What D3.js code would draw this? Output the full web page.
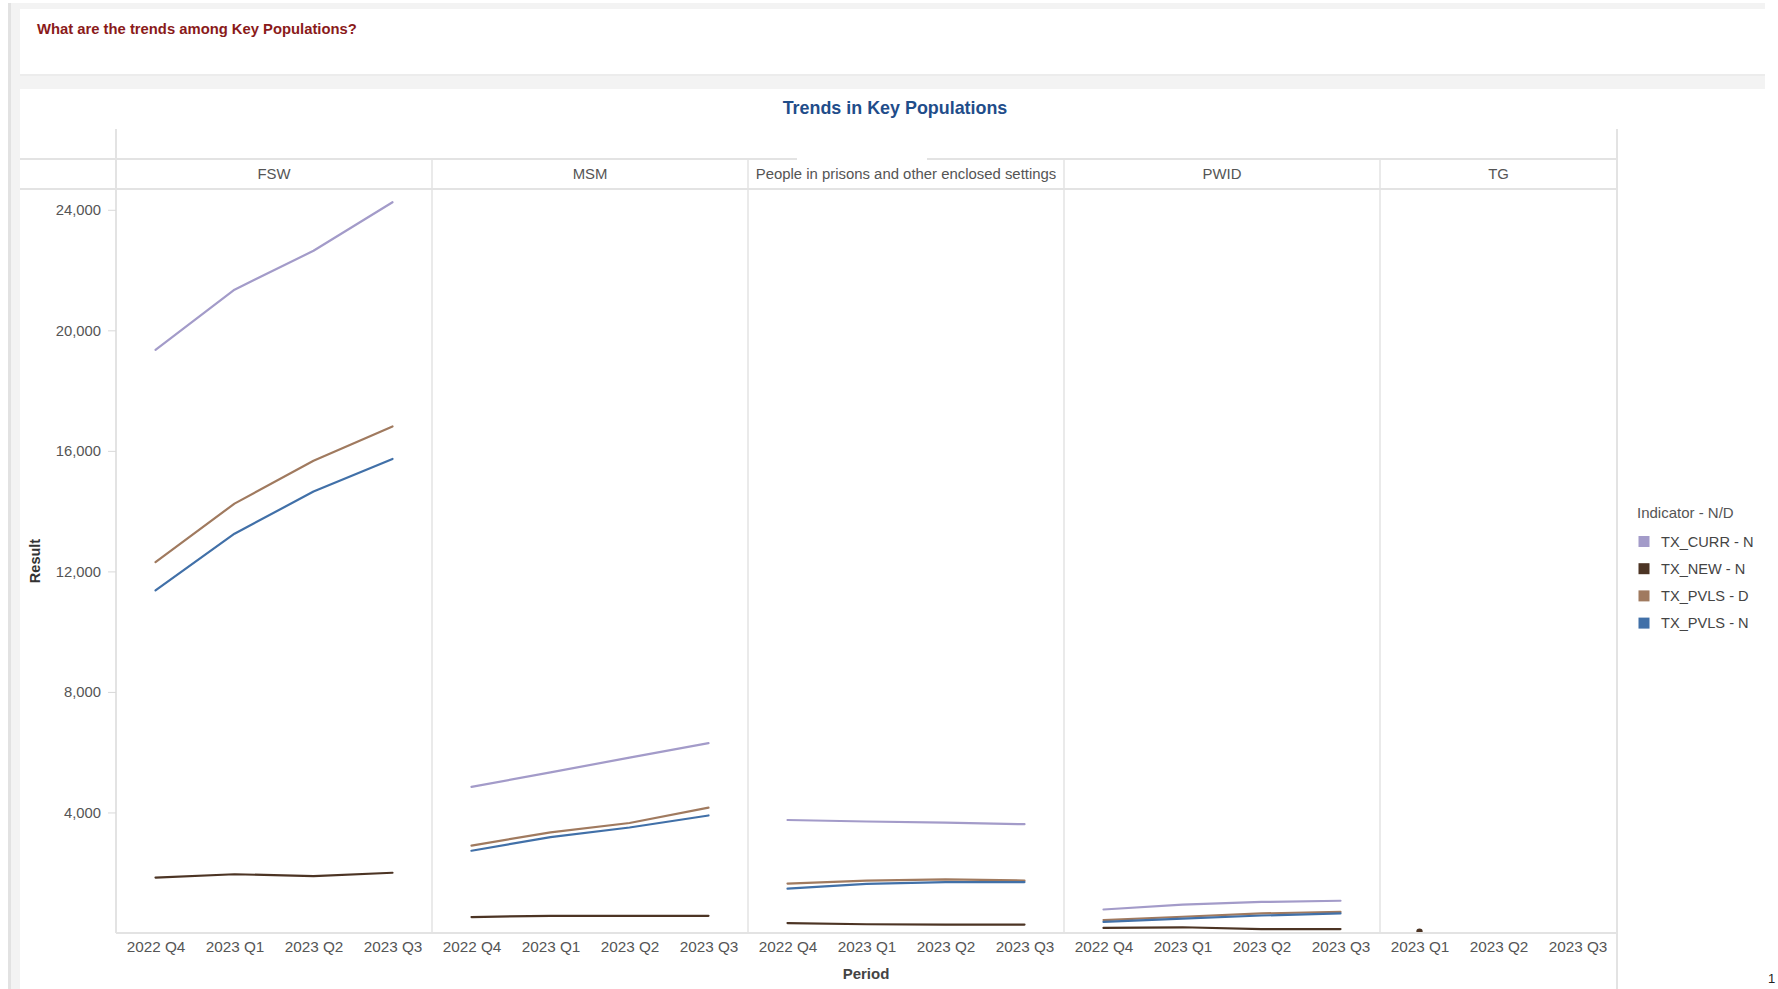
<!DOCTYPE html>
<html>
<head>
<meta charset="utf-8">
<script src="https://cdn.jsdelivr.net/npm/d3@7"></script>
<style>
  html, body { margin: 0; padding: 0; background: #ffffff; }
  svg { display: block; font-family: "Liberation Sans", Arial, sans-serif; }
</style>
</head>
<body>
<svg id="chart" width="1778" height="989"></svg>
<script>
// Key population panels and the reporting periods shown in each
const populations = ["FSW", "MSM", "People in prisons and other enclosed settings", "PWID", "TG"];
const periodsAll = ["2022 Q4", "2023 Q1", "2023 Q2", "2023 Q3"];
const periodsTG = ["2023 Q1", "2023 Q2", "2023 Q3"];

// Indicators (legend order) and their colours
const indicators = ["TX_CURR - N", "TX_NEW - N", "TX_PVLS - D", "TX_PVLS - N"];
const indicatorColors = ["#a39bc9", "#4c3424", "#a07a5f", "#4170a8"];

// Results per population, one row per panel, one value per period of that panel
const txCurr = [
  [19350, 21350, 22640, 24250],
  [4850, 5330, 5820, 6300],
  [3750, 3700, 3660, 3610],
  [780, 940, 1030, 1070],
  [null, null, null]
];
const txNew = [
  [1840, 1950, 1890, 2000],
  [530, 570, 570, 570],
  [330, 290, 280, 280],
  [170, 190, 130, 130],
  [40, null, null]
];
const txPvlsD = [
  [12310, 14250, 15670, 16810],
  [2900, 3340, 3650, 4160],
  [1640, 1740, 1780, 1740],
  [430, 540, 650, 700],
  [null, null, null]
];
const txPvlsN = [
  [11370, 13250, 14650, 15730],
  [2730, 3180, 3500, 3900],
  [1470, 1630, 1690, 1690],
  [370, 480, 580, 650],
  [null, null, null]
];
const seriesByIndicator = [txCurr, txNew, txPvlsD, txPvlsN];

const yTicks = [4000, 8000, 12000, 16000, 20000, 24000];

const svg = d3.select("#chart");
const FONT = "'Liberation Sans', Arial, sans-serif";

// ---- dashboard background and cards ----
svg.append("rect").attr("x", 10).attr("y", 3).attr("width", 1755).attr("height", 986).attr("fill", "#f3f3f3");
svg.append("rect").attr("x", 8).attr("y", 3).attr("width", 3).attr("height", 986).attr("fill", "#e2e2e2");
svg.append("rect").attr("x", 20).attr("y", 9).attr("width", 1745).attr("height", 65).attr("fill", "#ffffff");
svg.append("rect").attr("x", 20).attr("y", 74).attr("width", 1745).attr("height", 2).attr("fill", "#ececec");
svg.append("rect").attr("x", 20).attr("y", 89).attr("width", 1745).attr("height", 900).attr("fill", "#ffffff");

svg.append("text")
  .attr("x", 37).attr("y", 34)
  .attr("font-size", 14.8).attr("font-weight", "bold").attr("fill", "#8a1a1a")
  .text("What are the trends among Key Populations?");

svg.append("text")
  .attr("x", 895).attr("y", 114)
  .attr("text-anchor", "middle")
  .attr("font-size", 17.9).attr("font-weight", "bold").attr("fill", "#1f4d8a")
  .text("Trends in Key Populations");

// ---- geometry ----
const plotLeft = 116, plotRight = 1617;
const headerTop = 159, headerBottom = 189, plotBottom = 933;
const panelPeriods = populations.map((p, i) => i === 4 ? periodsTG : periodsAll);
const totalSlots = d3.sum(panelPeriods, d => d.length);
const slotX = d3.scaleLinear().domain([0, totalSlots]).range([plotLeft, plotRight]);

let cum = 0;
const panels = populations.map((name, i) => {
  const n = panelPeriods[i].length;
  const x0 = slotX(cum), x1 = slotX(cum + n);
  cum += n;
  const x = d3.scalePoint().domain(panelPeriods[i]).range([x0, x1]).padding(0.5);
  return { name, i, x0, x1, x };
});

const y = d3.scaleLinear().domain([0, 24690]).range([plotBottom, headerBottom]);

const gridColor = "#e3e3e3";

// header rules (top rule broken behind the chart title)
svg.append("line").attr("x1", 20).attr("x2", 797).attr("y1", headerTop).attr("y2", headerTop)
  .attr("stroke", gridColor).attr("stroke-width", 2);
svg.append("line").attr("x1", 927).attr("x2", plotRight).attr("y1", headerTop).attr("y2", headerTop)
  .attr("stroke", gridColor).attr("stroke-width", 2);
svg.append("line").attr("x1", 20).attr("x2", plotRight).attr("y1", headerBottom).attr("y2", headerBottom)
  .attr("stroke", gridColor).attr("stroke-width", 2);

// outer verticals
svg.append("line").attr("x1", plotLeft).attr("x2", plotLeft).attr("y1", 129).attr("y2", plotBottom)
  .attr("stroke", gridColor).attr("stroke-width", 2);
svg.append("line").attr("x1", plotRight).attr("x2", plotRight).attr("y1", 129).attr("y2", 989)
  .attr("stroke", gridColor).attr("stroke-width", 2);

// panel dividers
panels.slice(1).forEach(p => {
  svg.append("line").attr("x1", p.x0).attr("x2", p.x0).attr("y1", headerTop).attr("y2", plotBottom)
    .attr("stroke", gridColor).attr("stroke-width", 1.5);
});

// panel headers
panels.forEach(p => {
  svg.append("text")
    .attr("x", (p.x0 + p.x1) / 2).attr("y", 179)
    .attr("text-anchor", "middle")
    .attr("font-size", 14.9).attr("fill", "#555555")
    .text(p.name);
});

// y axis
const yAxis = svg.append("g")
  .attr("transform", `translate(${plotLeft},0)`)
  .call(d3.axisLeft(y).tickValues(yTicks).tickFormat(d3.format(",")).tickSize(8).tickPadding(7));
yAxis.select(".domain").remove();
yAxis.selectAll(".tick line").attr("stroke", "#d9d9d9");
yAxis.selectAll(".tick text").attr("font-size", 14.8).attr("fill", "#555555").attr("font-family", FONT);

svg.append("text")
  .attr("transform", "translate(40,561) rotate(-90)")
  .attr("text-anchor", "middle")
  .attr("font-size", 14.5).attr("font-weight", "bold").attr("fill", "#333333")
  .text("Result");

// x axes, one per panel
panels.forEach(p => {
  const g = svg.append("g")
    .attr("transform", `translate(0,${plotBottom})`)
    .call(d3.axisBottom(p.x).tickSize(0).tickPadding(8));
  g.select(".domain").remove();
  g.selectAll(".tick text").attr("font-size", 15.3).attr("fill", "#555555").attr("font-family", FONT);
});

svg.append("text")
  .attr("x", 866).attr("y", 979)
  .attr("text-anchor", "middle")
  .attr("font-size", 15).attr("font-weight", "bold").attr("fill", "#444444")
  .text("Period");

// ---- marks ----
svg.append("clipPath").attr("id", "plotClip")
  .append("rect").attr("x", plotLeft).attr("y", headerBottom)
  .attr("width", plotRight - plotLeft).attr("height", plotBottom - headerBottom);

const marks = svg.append("g").attr("clip-path", "url(#plotClip)");

// draw order: TX_NEW, TX_CURR, TX_PVLS - D, TX_PVLS - N
[1, 0, 2, 3].forEach(k => {
  const color = indicatorColors[k];
  panels.forEach(p => {
    const vals = seriesByIndicator[k][p.i];
    const pts = panelPeriods[p.i].map((per, j) => ({ per, v: vals[j] })).filter(d => d.v != null);
    if (pts.length > 1) {
      marks.append("path")
        .datum(pts)
        .attr("fill", "none")
        .attr("stroke", color)
        .attr("stroke-width", 2.2)
        .attr("stroke-linejoin", "round")
        .attr("stroke-linecap", "round")
        .attr("d", d3.line().x(d => p.x(d.per)).y(d => y(d.v)));
    } else if (pts.length === 1) {
      marks.append("circle")
        .attr("cx", p.x(pts[0].per)).attr("cy", y(pts[0].v))
        .attr("r", 3.2).attr("fill", color);
    }
  });
});

// x axis rule
svg.append("line").attr("x1", plotLeft).attr("x2", plotRight).attr("y1", plotBottom).attr("y2", plotBottom)
  .attr("stroke", gridColor).attr("stroke-width", 2);

// ---- legend ----
const legend = svg.append("g").attr("transform", "translate(1637,0)");
legend.append("text").attr("x", 0).attr("y", 518)
  .attr("font-size", 15).attr("fill", "#555555").text("Indicator - N/D");
indicators.forEach((name, k) => {
  const cy = 541.5 + k * 27.2;
  legend.append("rect").attr("x", 1.5).attr("y", cy - 5.5).attr("width", 11).attr("height", 11)
    .attr("fill", indicatorColors[k]);
  legend.append("text").attr("x", 24).attr("y", cy + 5)
    .attr("font-size", 14.6).attr("fill", "#444444").text(name);
});

// page marker at the right edge
svg.append("text").attr("x", 1768).attr("y", 983).attr("font-size", 13).attr("fill", "#222").text("1");
</script>
</body>
</html>
